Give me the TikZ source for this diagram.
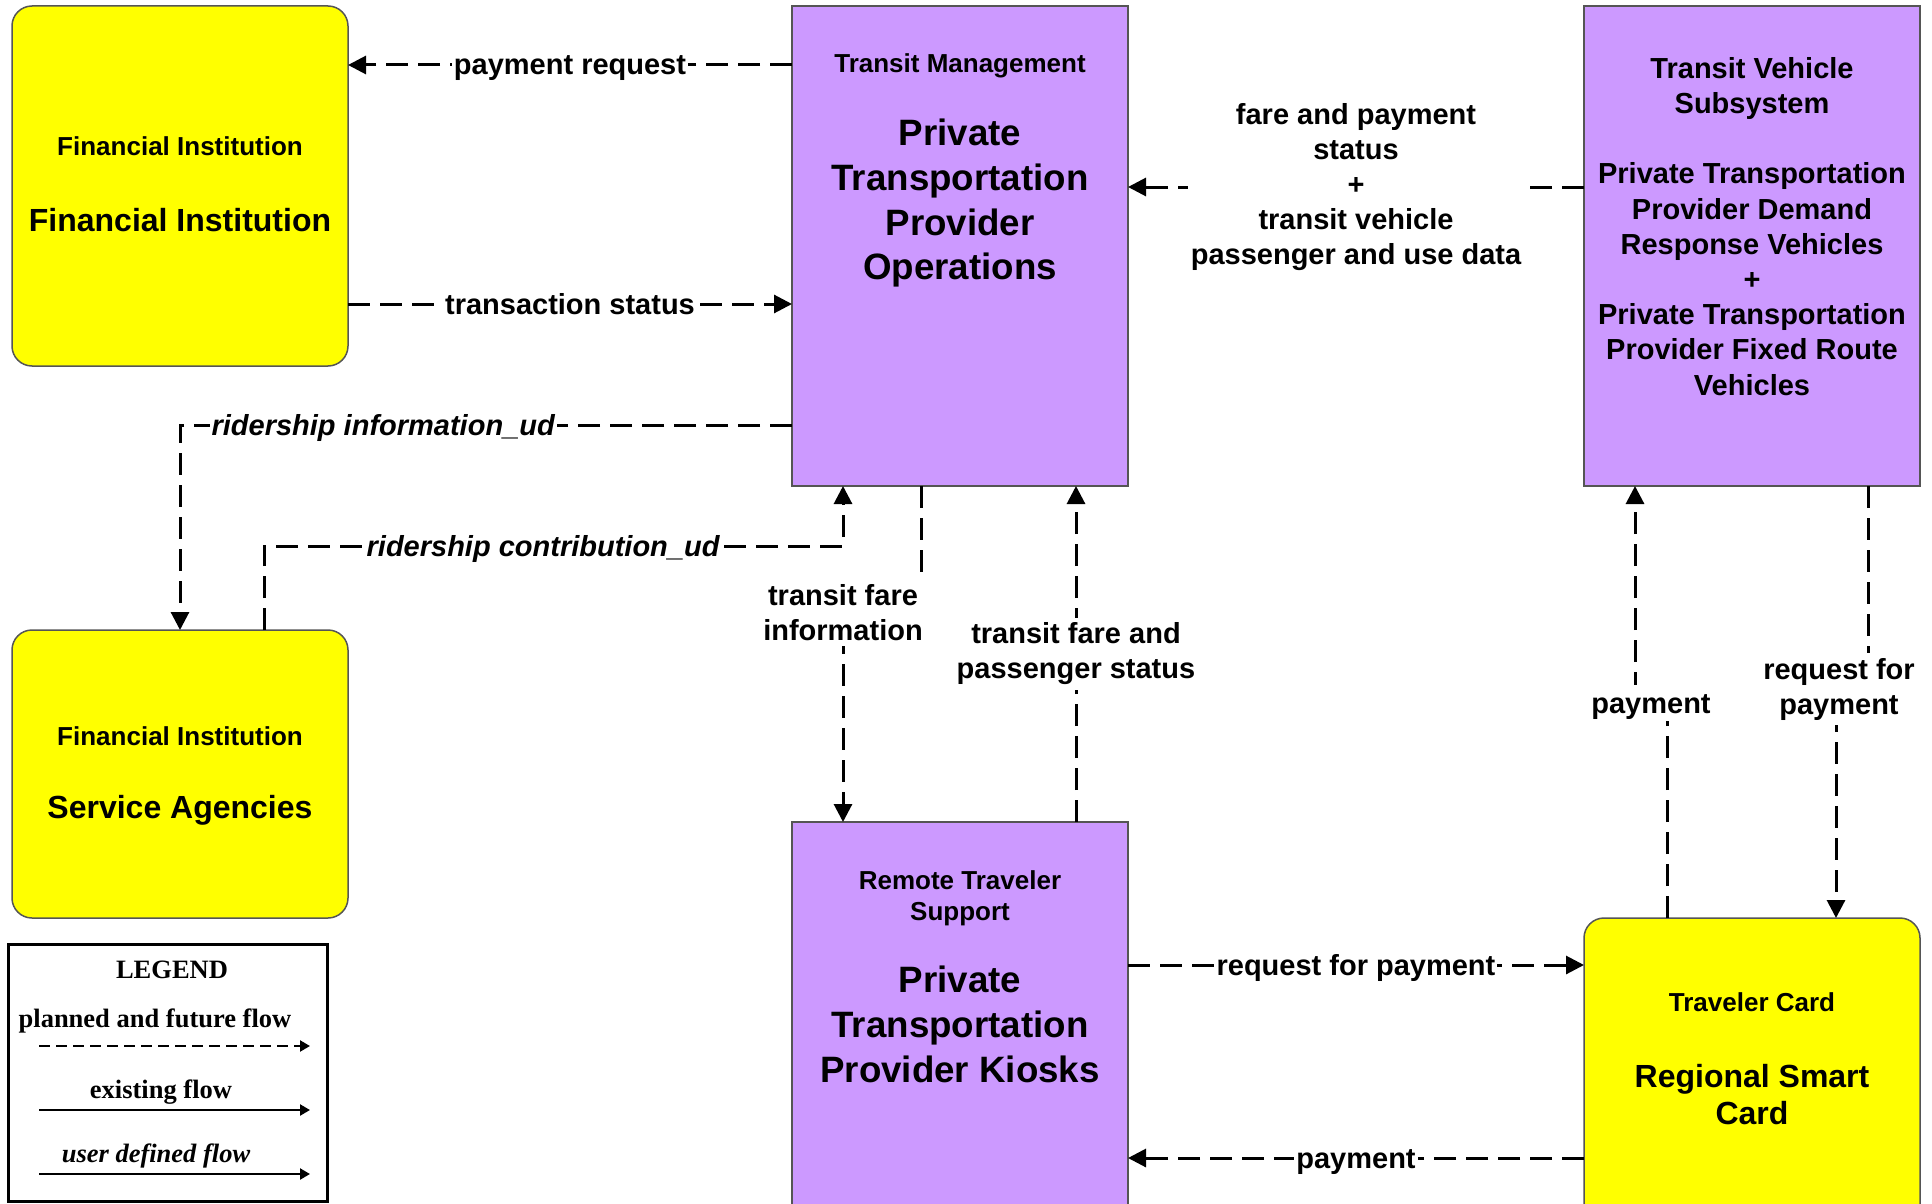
\documentclass[tikz,border=0pt]{standalone}
\usepackage{fontspec}
\setmainfont{Liberation Sans}
\newfontfamily\legendfont{Liberation Serif}
\usetikzlibrary{arrows.meta}
\definecolor{boxpurple}{HTML}{CC99FF}
\definecolor{boxyellow}{HTML}{FFFF00}
\definecolor{boxedge}{HTML}{555555}
\begin{document}
\begin{tikzpicture}[x=1pt,y=-1pt,
  purplebox/.style={draw=boxedge, line width=1.5pt, fill=boxpurple, inner sep=0pt, outer sep=0pt},
  yellowbox/.style={purplebox, fill=boxyellow, rounded corners=20pt},
  flow/.style={line width=3pt, dash pattern=on 22pt off 10pt, -{Triangle[length=18pt,width=18pt]}},
  lbl/.style={fill=white, inner xsep=2pt, inner ysep=4pt, text height=24pt, text depth=4pt, font=\fontsize{29}{35}\selectfont\bfseries},
  lblit/.style={lbl, font=\fontsize{29}{35}\selectfont\bfseries\itshape},
  mlbl/.style={fill=white, inner xsep=3pt, inner ysep=5pt, align=center, font=\fontsize{29}{35}\selectfont\bfseries},
  smalltitle/.style={anchor=base, inner sep=0pt, align=center, font=\fontsize{26}{31}\selectfont\bfseries},
  bigtitle/.style={anchor=base, inner sep=0pt, align=center, font=\fontsize{32}{37}\selectfont\bfseries},
  blocktext/.style={anchor=north, inner sep=0pt, align=center},
  legendtext/.style={anchor=base, inner sep=0pt, font=\fontsize{26.5}{30}\selectfont\legendfont\bfseries},
  legendflow/.style={line width=2.2pt, -{Triangle[length=10pt,width=11pt]}}
]
\useasboundingbox (0,0) rectangle (1932,1204);
\clip (0,0) rectangle (1932,1204);

% ---------- boxes ----------
\node[yellowbox, minimum width=336pt, minimum height=360pt] (fi) at (180,186) {};
\node[purplebox, minimum width=336pt, minimum height=480pt] (tm) at (960,246) {};
\node[purplebox, minimum width=336pt, minimum height=480pt] (tvs) at (1752,246) {};
\node[yellowbox, minimum width=336pt, minimum height=288pt] (sa) at (180,774) {};
\node[purplebox, minimum width=336pt, minimum height=408pt] (rts) at (960,1026) {};
\node[yellowbox, minimum width=336pt, minimum height=322pt] (rsc) at (1752,1079) {};

% ---------- box texts ----------
\node[smalltitle] (fi-t1) at (180,156) {Financial Institution};
\node[bigtitle] (fi-t2) at (180,231) {Financial Institution};

\node[smalltitle] (tm-t1) at (960,73) {Transit Management};
\node[blocktext, font=\fontsize{36.7}{44.7}\selectfont\bfseries] (tm-t2) at (960,119)
  {Private\\Transportation\\Provider\\Operations};

\node[blocktext, font=\fontsize{29}{35.2}\selectfont\bfseries] (tvs-t) at (1752,57)
  {Transit Vehicle\\Subsystem\\[35.2pt]Private Transportation\\Provider Demand\\Response Vehicles\\+\\Private Transportation\\Provider Fixed Route\\Vehicles};

\node[smalltitle] (sa-t1) at (180,745) {Financial Institution};
\node[bigtitle] (sa-t2) at (180,818) {Service Agencies};

\node[blocktext, font=\fontsize{26}{31}\selectfont\bfseries] (rts-t1) at (960,870) {Remote Traveler\\Support};
\node[blocktext, font=\fontsize{36.7}{45}\selectfont\bfseries] (rts-t2) at (960,966)
  {Private\\Transportation\\Provider Kiosks};

\node[smalltitle] (rsc-t1) at (1752,1011) {Traveler Card};
\node[blocktext, font=\fontsize{32}{37}\selectfont\bfseries] (rsc-t2) at (1752,1064) {Regional Smart\\Card};

% ---------- flows ----------
\draw[flow] (tm.west |- 0,65) -- node[lbl]{payment request} (fi.east |- 0,65);
\draw[flow] (fi.east |- 0,304) -- node[lbl]{transaction status} (tm.west |- 0,304);
\draw[flow] (tvs.west |- 0,187) -- node[mlbl]{fare and payment\\status\\+\\transit vehicle\\passenger and use data} (tm.east |- 0,187);
\draw[flow] (tm.west |- 0,425) -| node[lblit, pos=0.334]{ridership information\_ud} (sa.north);
\draw[flow] (sa.north -| 264,0) |- node[lblit, pos=0.741]{ridership contribution\_ud} (843,546) -- (tm.south -| 843,0);
\draw[flow] (tm.south -| 921,0) |- (843,613) node[mlbl]{transit fare\\information} -- (rts.north -| 843,0);
\draw[flow] (rts.north -| 1076,0) -- node[mlbl]{transit fare and\\passenger status} (tm.south -| 1076,0);
\draw[flow] (rsc.north -| 1667,0) |- node[lbl, pos=0.75]{payment} (1635,703) -- (tvs.south -| 1635,0);
\draw[flow] (tvs.south -| 1868,0) |- (1836,689) node[mlbl, xshift=3pt]{request for\\payment} -- (rsc.north -| 1836,0);
\draw[flow] (rts.east |- 0,965) -- node[lbl]{request for payment} (rsc.west |- 0,965);
\draw[flow] (rsc.west |- 0,1158) -- node[lbl]{payment} (rts.east |- 0,1158);

% ---------- legend ----------
\node[draw=black, line width=3pt, minimum width=319pt, minimum height=257pt, inner sep=0pt] (legend) at (167.5,1072.5) {};
\node[legendtext] (lg-title) at (172,978) {LEGEND};
\node[legendtext] (lg-planned) at (155,1027) {planned and future flow};
\coordinate (lg-a1) at (39,1046);
\coordinate (lg-b1) at (310,1046);
\draw[legendflow, dash pattern=on 10.5pt off 6.5pt] (lg-a1) -- (lg-b1);
\node[legendtext] (lg-existing) at (161,1098) {existing flow};
\coordinate (lg-a2) at (39,1110);
\coordinate (lg-b2) at (310,1110);
\draw[legendflow] (lg-a2) -- (lg-b2);
\node[legendtext, font=\fontsize{26.5}{30}\selectfont\legendfont\bfseries\itshape] (lg-user) at (156,1162) {user defined flow};
\coordinate (lg-a3) at (39,1174);
\coordinate (lg-b3) at (310,1174);
\draw[legendflow] (lg-a3) -- (lg-b3);
\end{tikzpicture}
\end{document}
